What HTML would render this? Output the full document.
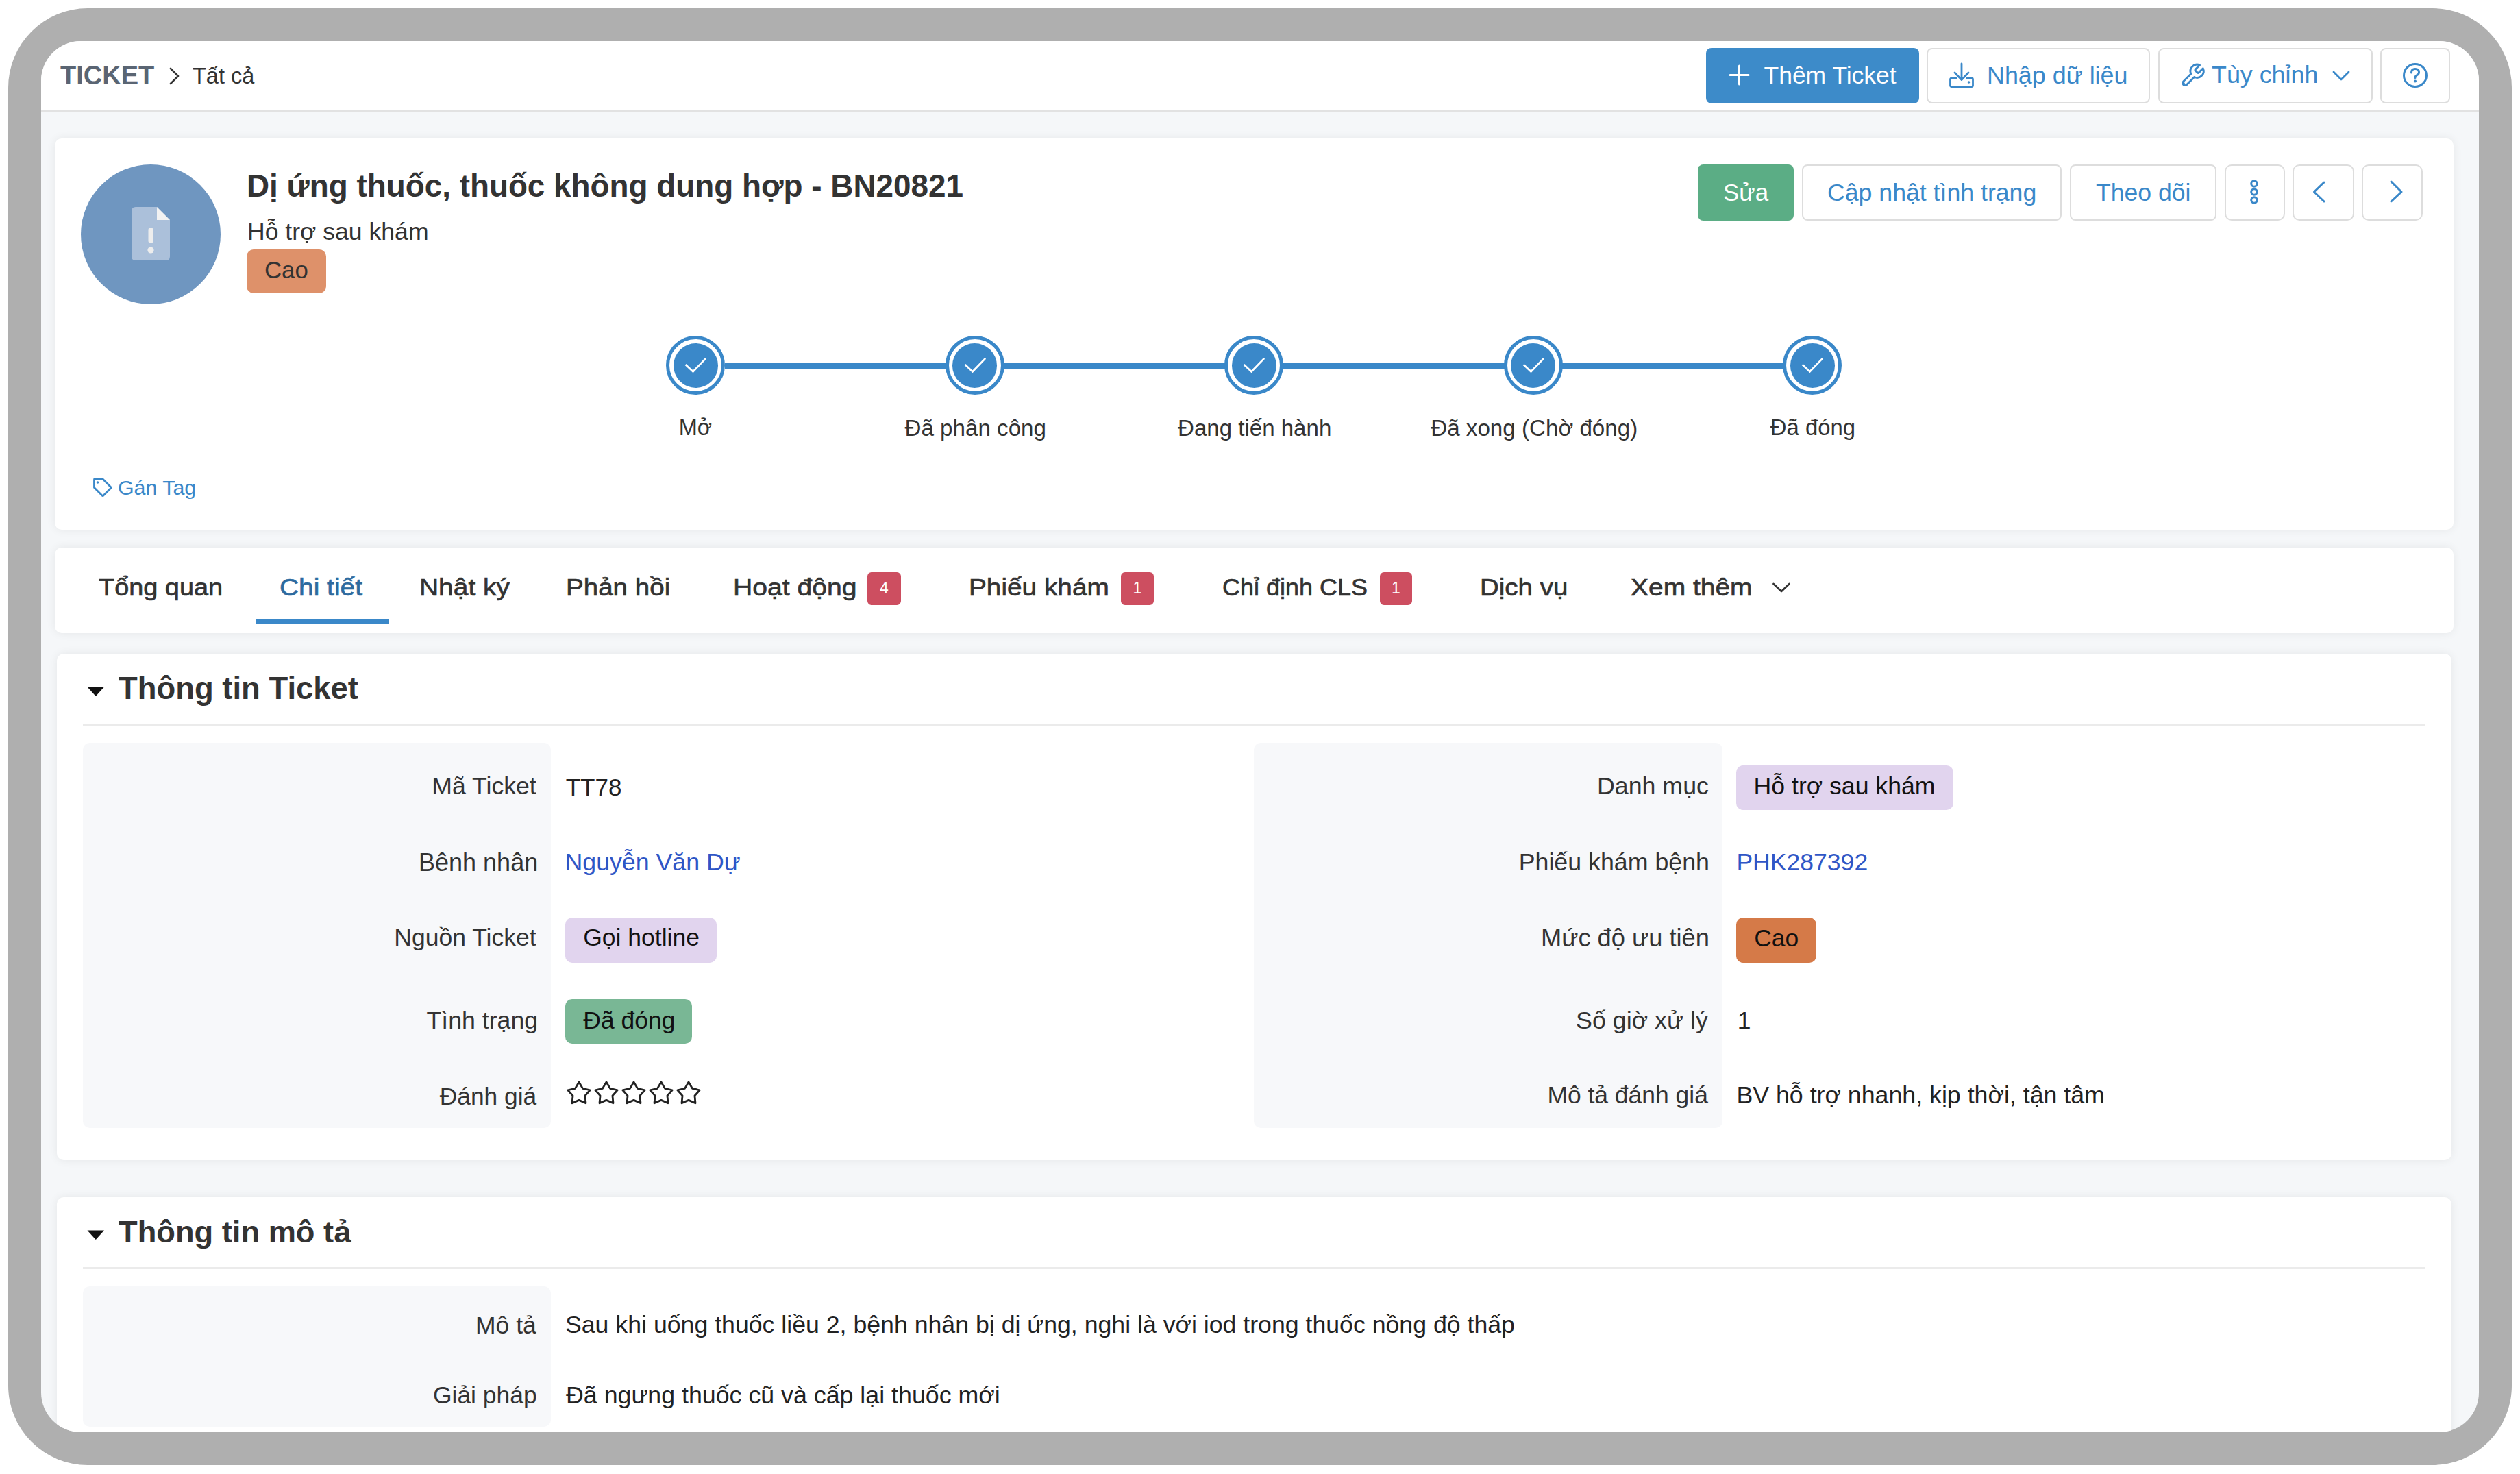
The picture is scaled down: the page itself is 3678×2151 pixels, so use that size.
<!DOCTYPE html>
<html><head><meta charset="utf-8"><title>Ticket</title>
<style>
html,body{margin:0;padding:0;}
body{width:3678px;height:2151px;position:relative;overflow:hidden;background:#fff;font-family:"Liberation Sans", sans-serif;}
.t{position:absolute;white-space:nowrap;line-height:1;}
</style></head><body>
<div style="position:absolute;left:12px;top:12px;width:3654px;height:2126px;background:#AFAFAF;border-radius:116px"></div>
<div id="screen" style="position:absolute;left:60px;top:60px;width:3558px;height:2030px;border-radius:58px;overflow:hidden;background:#F5F7F9">
<div style="position:absolute;left:-60px;top:-60px;width:3678px;height:2151px">
<div style="position:absolute;left:60px;top:60px;width:3558px;height:101px;background:#fff"></div>
<div style="position:absolute;left:60px;top:161px;width:3558px;height:3px;background:#E2E2E2"></div>
<div class="t" style="left:88.00px;top:90.84px;font-size:38.00px;color:#5A6573;font-weight:700;">TICKET</div>
<svg style="position:absolute;left:246px;top:98px;overflow:visible" width="18" height="26" viewBox="0 0 18 26"><path d="M3 2 L14 13 L3 24" fill="none" stroke="#333" stroke-width="2.6" stroke-linecap="round" stroke-linejoin="round"/></svg>
<div class="t" style="left:281.00px;top:94.98px;font-size:32.52px;color:#333;font-weight:400;">Tất cả</div>
<div style="position:absolute;left:2490px;top:70px;width:311px;height:81px;background:#3D8BC9;border-radius:8px"></div>
<svg style="position:absolute;left:2524px;top:95px;overflow:visible" width="29" height="29" viewBox="0 0 29 29"><path d="M14.5 1 V28 M1 14.5 H28" stroke="#fff" stroke-width="3" stroke-linecap="round"/></svg>
<div class="t" style="left:2574.50px;top:92.98px;font-size:35.47px;color:#fff;font-weight:400;">Thêm Ticket</div>
<div style="position:absolute;left:2812px;top:70px;width:326px;height:81px;box-sizing:border-box;border:2.5px solid #DDDDDD;border-radius:8px;background:#fff"></div>
<svg style="position:absolute;left:2843px;top:90px;overflow:visible" width="40" height="40" viewBox="0 0 40 40"><g fill="none" stroke="#3A88C9" stroke-width="2.8" stroke-linecap="round" stroke-linejoin="round"><path d="M20 3 V26"/><path d="M10 16 L20 26.5 L30 16"/><path d="M12 24 H5.5 Q3.5 24 3.5 26 V34.5 Q3.5 36.5 5.5 36.5 H34.5 Q36.5 36.5 36.5 34.5 V26 Q36.5 24 34.5 24 H28"/></g><circle cx="30.5" cy="30" r="1.8" fill="#3A88C9"/></svg>
<div class="t" style="left:2899.97px;top:92.62px;font-size:35.89px;color:#3A88C9;font-weight:400;">Nhập dữ liệu</div>
<div style="position:absolute;left:3150px;top:70px;width:313px;height:81px;box-sizing:border-box;border:2.5px solid #DDDDDD;border-radius:8px;background:#fff"></div>
<svg style="position:absolute;left:3180px;top:90px;overflow:visible" width="40" height="40" viewBox="0 0 40 40"><path transform="translate(1,1) scale(1.6)" d="M14.7 6.3a1 1 0 0 0 0 1.4l1.6 1.6a1 1 0 0 0 1.4 0l3.77-3.77a6 6 0 0 1-7.94 7.94l-6.91 6.91a2.12 2.12 0 0 1-3-3l6.91-6.91a6 6 0 0 1 7.94-7.94l-3.76 3.76z" fill="none" stroke="#3A88C9" stroke-width="1.8" stroke-linecap="round" stroke-linejoin="round"/><circle cx="7.5" cy="31.5" r="1.3" fill="#3A88C9"/></svg>
<div class="t" style="left:3228.00px;top:92.37px;font-size:35.83px;color:#3A88C9;font-weight:400;">Tùy chỉnh</div>
<svg style="position:absolute;left:3404px;top:103px;overflow:visible" width="26" height="16" viewBox="0 0 26 16"><path d="M2 2 L13 13 L24 2" fill="none" stroke="#3A88C9" stroke-width="2.8" stroke-linecap="round" stroke-linejoin="round"/></svg>
<div style="position:absolute;left:3474px;top:70px;width:102px;height:81px;box-sizing:border-box;border:2.5px solid #DDDDDD;border-radius:8px;background:#fff"></div>
<svg style="position:absolute;left:3505px;top:90px;overflow:visible" width="40" height="40" viewBox="0 0 40 40"><circle cx="20" cy="20" r="16.5" fill="none" stroke="#3A88C9" stroke-width="3"/><path d="M14.5 16 Q14.5 10.5 20 10.5 Q25.5 10.5 25.5 15.5 Q25.5 18.5 22 20 Q20 21 20 23.5" fill="none" stroke="#3A88C9" stroke-width="3" stroke-linecap="round"/><circle cx="20" cy="28.5" r="2" fill="#3A88C9"/></svg>
<div style="position:absolute;left:80px;top:202px;width:3501px;height:571px;background:#fff;border-radius:10px;box-shadow:0 0 14px rgba(0,0,0,0.07)"></div>
<div style="position:absolute;left:80px;top:799px;width:3501px;height:125px;background:#fff;border-radius:10px;box-shadow:0 0 14px rgba(0,0,0,0.07)"></div>
<div style="position:absolute;left:83px;top:954px;width:3495px;height:739px;background:#fff;border-radius:10px;box-shadow:0 0 14px rgba(0,0,0,0.07)"></div>
<div style="position:absolute;left:83px;top:1747px;width:3495px;height:553px;background:#fff;border-radius:10px;box-shadow:0 0 14px rgba(0,0,0,0.07)"></div>
<div style="position:absolute;left:118px;top:239.5px;width:204px;height:204px;border-radius:50%;background:#6F96C0"></div>
<svg style="position:absolute;left:190px;top:300px;overflow:visible" width="60" height="82" viewBox="0 0 60 82"><path d="M8 2 H39 L58 21 V74 Q58 80 52 80 H8 Q2 80 2 74 V8 Q2 2 8 2 Z" fill="#ABC0DA"/><path d="M39 2 L58 21 H39 Z" fill="#F2F2F2"/><rect x="26.5" y="32" width="7" height="23" rx="3.5" fill="#EDEDED"/><circle cx="30" cy="65" r="4.6" fill="#EDEDED"/></svg>
<div class="t" style="left:359.98px;top:248.70px;font-size:45.84px;color:#333;font-weight:700;">Dị ứng thuốc, thuốc không dung hợp - BN20821</div>
<div class="t" style="left:360.99px;top:320.89px;font-size:35.58px;color:#333;font-weight:400;">Hỗ trợ sau khám</div>
<div style="position:absolute;left:360px;top:364px;width:116px;height:64px;background:#DE916A;border-radius:10px"></div>
<div class="t" style="left:386.02px;top:377.08px;font-size:34.76px;color:#333;font-weight:400;">Cao</div>
<div style="position:absolute;left:2478px;top:240px;width:140px;height:82px;background:#5BAD85;border-radius:8px"></div>
<div class="t" style="left:2515.01px;top:264.44px;font-size:34.92px;color:#fff;font-weight:400;">Sửa</div>
<div style="position:absolute;left:2630px;top:240px;width:379px;height:82px;box-sizing:border-box;border:2.5px solid #DDDDDD;border-radius:8px;background:#fff"></div>
<div class="t" style="left:2666.99px;top:263.82px;font-size:35.66px;color:#3A88C9;font-weight:400;">Cập nhật tình trạng</div>
<div style="position:absolute;left:3021px;top:240px;width:214px;height:82px;box-sizing:border-box;border:2.5px solid #DDDDDD;border-radius:8px;background:#fff"></div>
<div class="t" style="left:3059.00px;top:263.90px;font-size:35.57px;color:#3A88C9;font-weight:400;">Theo dõi</div>
<div style="position:absolute;left:3247px;top:240px;width:88px;height:82px;box-sizing:border-box;border:2.5px solid #DDDDDD;border-radius:10px;background:#fff"></div>
<svg style="position:absolute;left:3280px;top:258px;overflow:visible" width="20" height="44" viewBox="0 0 20 44"><circle cx="10" cy="10" r="4.3" fill="none" stroke="#3A88C9" stroke-width="3"/><circle cx="10" cy="22" r="4.3" fill="none" stroke="#3A88C9" stroke-width="3"/><circle cx="10" cy="34" r="4.3" fill="none" stroke="#3A88C9" stroke-width="3"/></svg>
<div style="position:absolute;left:3346px;top:240px;width:90px;height:82px;box-sizing:border-box;border:2.5px solid #DDDDDD;border-radius:10px;background:#fff"></div>
<svg style="position:absolute;left:3372px;top:262px;overflow:visible" width="26" height="36" viewBox="0 0 26 36"><path d="M20 4 L5.5 18 L20 32" fill="none" stroke="#3A88C9" stroke-width="3" stroke-linecap="round" stroke-linejoin="round"/></svg>
<div style="position:absolute;left:3447px;top:240px;width:89px;height:82px;box-sizing:border-box;border:2.5px solid #DDDDDD;border-radius:10px;background:#fff"></div>
<svg style="position:absolute;left:3484px;top:262px;overflow:visible" width="26" height="36" viewBox="0 0 26 36"><path d="M6 3 L21 18 L6 32" fill="none" stroke="#3A88C9" stroke-width="3" stroke-linecap="round" stroke-linejoin="round"/></svg>
<div style="position:absolute;left:1058px;top:530px;width:1544px;height:8px;background:#3A88C9"></div>
<div style="position:absolute;left:972px;top:490px;width:86px;height:86px;border-radius:50%;background:#fff;box-sizing:border-box;border:5.5px solid #3A88C9"></div>
<div style="position:absolute;left:982.5px;top:500.5px;width:65px;height:65px;border-radius:50%;background:#3A88C9"></div>
<svg style="position:absolute;left:995px;top:513px;overflow:visible" width="40" height="40" viewBox="0 0 40 40"><path d="M5.6 19 L16.5 29.3 L35.2 9.9" fill="none" stroke="#fff" stroke-width="2.7"/></svg>
<div class="t" style="left:990.79px;top:608.08px;font-size:32.51px;color:#333;font-weight:400;">Mở</div>
<div style="position:absolute;left:1379.5px;top:490px;width:86px;height:86px;border-radius:50%;background:#fff;box-sizing:border-box;border:5.5px solid #3A88C9"></div>
<div style="position:absolute;left:1390.0px;top:500.5px;width:65px;height:65px;border-radius:50%;background:#3A88C9"></div>
<svg style="position:absolute;left:1402.5px;top:513px;overflow:visible" width="40" height="40" viewBox="0 0 40 40"><path d="M5.6 19 L16.5 29.3 L35.2 9.9" fill="none" stroke="#fff" stroke-width="2.7"/></svg>
<div class="t" style="left:1320.50px;top:607.53px;font-size:33.17px;color:#333;font-weight:400;">Đã phân công</div>
<div style="position:absolute;left:1787px;top:490px;width:86px;height:86px;border-radius:50%;background:#fff;box-sizing:border-box;border:5.5px solid #3A88C9"></div>
<div style="position:absolute;left:1797.5px;top:500.5px;width:65px;height:65px;border-radius:50%;background:#3A88C9"></div>
<svg style="position:absolute;left:1810px;top:513px;overflow:visible" width="40" height="40" viewBox="0 0 40 40"><path d="M5.6 19 L16.5 29.3 L35.2 9.9" fill="none" stroke="#fff" stroke-width="2.7"/></svg>
<div class="t" style="left:1719.00px;top:607.61px;font-size:33.07px;color:#333;font-weight:400;">Đang tiến hành</div>
<div style="position:absolute;left:2194.5px;top:490px;width:86px;height:86px;border-radius:50%;background:#fff;box-sizing:border-box;border:5.5px solid #3A88C9"></div>
<div style="position:absolute;left:2205.0px;top:500.5px;width:65px;height:65px;border-radius:50%;background:#3A88C9"></div>
<svg style="position:absolute;left:2217.5px;top:513px;overflow:visible" width="40" height="40" viewBox="0 0 40 40"><path d="M5.6 19 L16.5 29.3 L35.2 9.9" fill="none" stroke="#fff" stroke-width="2.7"/></svg>
<div class="t" style="left:2088.20px;top:607.51px;font-size:33.18px;color:#333;font-weight:400;">Đã xong (Chờ đóng)</div>
<div style="position:absolute;left:2602px;top:490px;width:86px;height:86px;border-radius:50%;background:#fff;box-sizing:border-box;border:5.5px solid #3A88C9"></div>
<div style="position:absolute;left:2612.5px;top:500.5px;width:65px;height:65px;border-radius:50%;background:#3A88C9"></div>
<svg style="position:absolute;left:2625px;top:513px;overflow:visible" width="40" height="40" viewBox="0 0 40 40"><path d="M5.6 19 L16.5 29.3 L35.2 9.9" fill="none" stroke="#fff" stroke-width="2.7"/></svg>
<div class="t" style="left:2583.80px;top:607.79px;font-size:32.85px;color:#333;font-weight:400;">Đã đóng</div>
<svg style="position:absolute;left:134px;top:696px;overflow:visible" width="30" height="30" viewBox="0 0 30 30"><path d="M3.5 4 Q3.5 2.5 5 2.5 H15.5 L27.5 14.5 Q28.5 15.5 27.5 16.5 L17 27 Q16 28 15 27 L3.5 15.5 Z" fill="none" stroke="#3A88C9" stroke-width="2.8" stroke-linejoin="round"/><circle cx="8.5" cy="8" r="1.8" fill="#3A88C9"/></svg>
<div class="t" style="left:171.99px;top:697.32px;font-size:30.35px;color:#3A88C9;font-weight:400;">Gán Tag</div>
<div class="t" style="left:144.40px;top:839.87px;font-size:35.60px;color:#333;font-weight:400;transform:scaleX(1.0645);transform-origin:0 0;-webkit-text-stroke:0.65px #333;">Tổng quan</div>
<div class="t" style="left:407.51px;top:839.87px;font-size:35.60px;color:#2D6A9F;font-weight:400;transform:scaleX(1.0924);transform-origin:0 0;-webkit-text-stroke:0.65px #2D6A9F;">Chi tiết</div>
<div class="t" style="left:611.81px;top:839.87px;font-size:35.60px;color:#333;font-weight:400;transform:scaleX(1.0940);transform-origin:0 0;-webkit-text-stroke:0.65px #333;">Nhật ký</div>
<div class="t" style="left:826.23px;top:839.87px;font-size:35.60px;color:#333;font-weight:400;transform:scaleX(1.0839);transform-origin:0 0;-webkit-text-stroke:0.65px #333;">Phản hồi</div>
<div class="t" style="left:1069.50px;top:839.87px;font-size:35.60px;color:#333;font-weight:400;transform:scaleX(1.0991);transform-origin:0 0;-webkit-text-stroke:0.65px #333;">Hoạt động</div>
<div class="t" style="left:1413.52px;top:839.87px;font-size:35.60px;color:#333;font-weight:400;transform:scaleX(1.0899);transform-origin:0 0;-webkit-text-stroke:0.65px #333;">Phiếu khám</div>
<div class="t" style="left:1783.79px;top:839.87px;font-size:35.60px;color:#333;font-weight:400;transform:scaleX(1.0111);transform-origin:0 0;-webkit-text-stroke:0.65px #333;">Chỉ định CLS</div>
<div class="t" style="left:2160.44px;top:839.87px;font-size:35.60px;color:#333;font-weight:400;transform:scaleX(1.0814);transform-origin:0 0;-webkit-text-stroke:0.65px #333;">Dịch vụ</div>
<div class="t" style="left:2379.70px;top:839.87px;font-size:35.60px;color:#333;font-weight:400;transform:scaleX(1.0953);transform-origin:0 0;-webkit-text-stroke:0.65px #333;">Xem thêm</div>
<div style="position:absolute;left:374px;top:903px;width:194px;height:8px;background:#3A88C9"></div>
<div style="position:absolute;left:1266px;top:835px;width:49px;height:48px;background:#CD4E60;border-radius:6px"></div>
<div class="t" style="left:1284.00px;top:846.53px;font-size:23.00px;color:#fff;font-weight:400;">4</div>
<div style="position:absolute;left:1636px;top:835px;width:48px;height:48px;background:#CD4E60;border-radius:6px"></div>
<div class="t" style="left:1653.50px;top:846.53px;font-size:23.00px;color:#fff;font-weight:400;">1</div>
<div style="position:absolute;left:2014px;top:835px;width:47px;height:48px;background:#CD4E60;border-radius:6px"></div>
<div class="t" style="left:2031.00px;top:846.53px;font-size:23.00px;color:#fff;font-weight:400;">1</div>
<svg style="position:absolute;left:2586px;top:849px;overflow:visible" width="28" height="18" viewBox="0 0 28 18"><path d="M2.5 3 L14 14 L25.5 3" fill="none" stroke="#333" stroke-width="2.8" stroke-linecap="round" stroke-linejoin="round"/></svg>
<svg style="position:absolute;left:127px;top:1001.5px;overflow:visible" width="26" height="15" viewBox="0 0 26 15"><path d="M0.5 0.5 H25 L12.75 14 Z" fill="#111"/></svg>
<div class="t" style="left:173.00px;top:981.85px;font-size:45.43px;color:#333;font-weight:700;">Thông tin Ticket</div>
<div style="position:absolute;left:121px;top:1056px;width:3419px;height:2.5px;background:#EBEBEB"></div>
<div style="position:absolute;left:121px;top:1084px;width:683px;height:562px;background:#F7F8FA;border-radius:10px"></div>
<div style="position:absolute;left:1830px;top:1084px;width:684px;height:562px;background:#F7F8FA;border-radius:10px"></div>
<div class="t" style="left:630.29px;top:1130.35px;font-size:35.63px;color:#333;font-weight:400;">Mã Ticket</div>
<div class="t" style="left:610.96px;top:1240.71px;font-size:36.03px;color:#333;font-weight:400;">Bênh nhân</div>
<div class="t" style="left:575.29px;top:1351.32px;font-size:35.54px;color:#333;font-weight:400;">Nguồn Ticket</div>
<div class="t" style="left:622.50px;top:1472.18px;font-size:35.70px;color:#333;font-weight:400;">Tình trạng</div>
<div class="t" style="left:641.80px;top:1581.50px;font-size:35.33px;color:#333;font-weight:400;">Đánh giá</div>
<div class="t" style="left:2330.98px;top:1130.24px;font-size:35.76px;color:#333;font-weight:400;">Danh mục</div>
<div class="t" style="left:2216.68px;top:1240.94px;font-size:35.76px;color:#333;font-weight:400;">Phiếu khám bệnh</div>
<div class="t" style="left:2248.95px;top:1350.71px;font-size:36.26px;color:#333;font-weight:400;">Mức độ ưu tiên</div>
<div class="t" style="left:2299.99px;top:1472.06px;font-size:35.85px;color:#333;font-weight:400;">Số giờ xử lý</div>
<div class="t" style="left:2258.40px;top:1581.39px;font-size:35.45px;color:#333;font-weight:400;">Mô tả đánh giá</div>
<div class="t" style="left:825.70px;top:1130.84px;font-size:35.05px;color:#222;font-weight:400;">TT78</div>
<div class="t" style="left:824.48px;top:1240.96px;font-size:35.73px;color:#2F56C6;font-weight:400;">Nguyễn Văn Dự</div>
<div style="position:absolute;left:825px;top:1339px;width:221px;height:65.5px;background:#E1D4EE;border-radius:10px"></div>
<div class="t" style="left:851.20px;top:1351.35px;font-size:35.50px;color:#111;font-weight:400;">Gọi hotline</div>
<div style="position:absolute;left:825px;top:1458px;width:185px;height:64.59999999999991px;background:#79B795;border-radius:10px"></div>
<div class="t" style="left:851.30px;top:1472.37px;font-size:35.47px;color:#111;font-weight:400;">Đã đóng</div>
<svg style="position:absolute;left:820px;top:1570px;overflow:visible" width="210" height="46" viewBox="0 0 210 46"><polygon points="25.00,9.00 30.53,18.40 41.17,20.75 33.94,28.90 34.99,39.75 25.00,35.40 15.01,39.75 16.06,28.90 8.83,20.75 19.47,18.40" fill="none" stroke="#222" stroke-width="2.8" stroke-linejoin="round"/><polygon points="65.00,9.00 70.53,18.40 81.17,20.75 73.94,28.90 74.99,39.75 65.00,35.40 55.01,39.75 56.06,28.90 48.83,20.75 59.47,18.40" fill="none" stroke="#222" stroke-width="2.8" stroke-linejoin="round"/><polygon points="105.00,9.00 110.53,18.40 121.17,20.75 113.94,28.90 114.99,39.75 105.00,35.40 95.01,39.75 96.06,28.90 88.83,20.75 99.47,18.40" fill="none" stroke="#222" stroke-width="2.8" stroke-linejoin="round"/><polygon points="145.00,9.00 150.53,18.40 161.17,20.75 153.94,28.90 154.99,39.75 145.00,35.40 135.01,39.75 136.06,28.90 128.83,20.75 139.47,18.40" fill="none" stroke="#222" stroke-width="2.8" stroke-linejoin="round"/><polygon points="185.00,9.00 190.53,18.40 201.17,20.75 193.94,28.90 194.99,39.75 185.00,35.40 175.01,39.75 176.06,28.90 168.83,20.75 179.47,18.40" fill="none" stroke="#222" stroke-width="2.8" stroke-linejoin="round"/></svg>
<div style="position:absolute;left:2534px;top:1117px;width:317px;height:64.70000000000005px;background:#E1D4EE;border-radius:10px"></div>
<div class="t" style="left:2559.59px;top:1130.34px;font-size:35.63px;color:#111;font-weight:400;">Hỗ trợ sau khám</div>
<div class="t" style="left:2534.39px;top:1241.09px;font-size:35.57px;color:#2F56C6;font-weight:400;">PHK287392</div>
<div style="position:absolute;left:2534px;top:1339px;width:117px;height:65.5px;background:#D57A48;border-radius:10px"></div>
<div class="t" style="left:2560.30px;top:1351.46px;font-size:35.38px;color:#111;font-weight:400;">Cao</div>
<div class="t" style="left:2535.80px;top:1472.44px;font-size:35.40px;color:#222;font-weight:400;">1</div>
<div class="t" style="left:2534.38px;top:1581.15px;font-size:35.74px;color:#222;font-weight:400;">BV hỗ trợ nhanh, kịp thời, tận tâm</div>
<svg style="position:absolute;left:127px;top:1794.5px;overflow:visible" width="26" height="15" viewBox="0 0 26 15"><path d="M0.5 0.5 H25 L12.75 14 Z" fill="#111"/></svg>
<div class="t" style="left:173.00px;top:1775.00px;font-size:45.25px;color:#333;font-weight:700;">Thông tin mô tả</div>
<div style="position:absolute;left:121px;top:1849px;width:3419px;height:2.5px;background:#EBEBEB"></div>
<div style="position:absolute;left:121px;top:1877px;width:683px;height:205px;background:#F7F8FA;border-radius:10px"></div>
<div class="t" style="left:694.00px;top:1916.68px;font-size:35.47px;color:#333;font-weight:400;">Mô tả</div>
<div class="t" style="left:632.00px;top:2019.00px;font-size:35.44px;color:#333;font-weight:400;">Giải pháp</div>
<div class="t" style="left:824.99px;top:1916.49px;font-size:35.69px;color:#222;font-weight:400;">Sau khi uống thuốc liều 2, bệnh nhân bị dị ứng, nghi là với iod trong thuốc nồng độ thấp</div>
<div class="t" style="left:826.00px;top:2018.74px;font-size:35.75px;color:#222;font-weight:400;">Đã ngưng thuốc cũ và cấp lại thuốc mới</div>
</div></div>
</body></html>
